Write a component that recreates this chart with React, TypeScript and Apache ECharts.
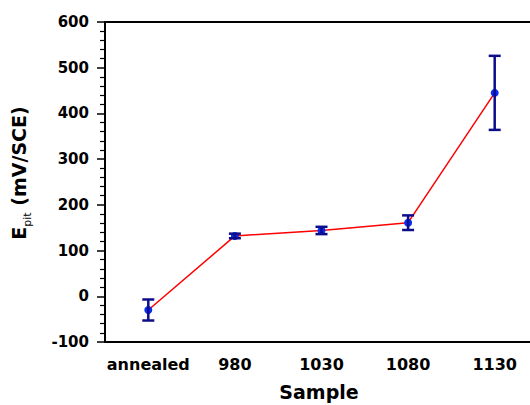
import React, { useEffect, useRef } from "react";
import * as echarts from "echarts";

const categories = ["annealed", "980", "1030", "1080", "1130"];
const means = [-30, 132, 144, 161, 445];
const errors = [23, 5, 8, 16, 81];
const yTicks = { min: -100, max: 600, interval: 100 };

export default function App() {
  const ref = useRef<HTMLDivElement>(null);
  useEffect(() => {
    if (!ref.current) return;
    const chart = echarts.init(ref.current, null, { renderer: "svg" });
    const font = "'DejaVu Sans', 'Liberation Sans', Arial, sans-serif";
    const errData = means.map((m, i) => [i, m - errors[i], m + errors[i]]);
    chart.setOption({
      animation: false,
      backgroundColor: "#ffffff",
      grid: {
        left: 105,
        top: 22,
        width: 433,
        bottom: 63,
        show: true,
        borderColor: "#000",
        borderWidth: 2,
        backgroundColor: "transparent",
      },
      xAxis: {
        type: "category",
        data: categories,
        boundaryGap: true,
        axisLine: { onZero: false, lineStyle: { color: "#000", width: 2 } },
        axisTick: { alignWithLabel: true, interval: 0, length: 7, lineStyle: { color: "#000", width: 1.5 } },
        axisLabel: { interval: 0, color: "#000", fontFamily: font, fontWeight: "bold", fontSize: 16, margin: 14 },
        splitLine: { show: false },
      },
      yAxis: {
        type: "value",
        min: yTicks.min,
        max: yTicks.max,
        interval: yTicks.interval,
        axisLine: { show: true, lineStyle: { color: "#000", width: 2 } },
        axisTick: { show: true, length: 8, lineStyle: { color: "#000", width: 1.5 } },
        minorTick: { show: true, splitNumber: 5, length: 5, lineStyle: { color: "#000", width: 1.2 } },
        axisLabel: { color: "#000", fontFamily: font, fontWeight: "bold", fontSize: 15, margin: 16 },
        splitLine: { show: false },
      },
      graphic: [
        {
          type: "text",
          x: 319,
          y: 392,
          style: {
            text: "Sample",
            fontFamily: font,
            fontWeight: "bold",
            fontSize: 19,
            fill: "#000",
            align: "center",
            verticalAlign: "middle",
          },
        },
        {
          type: "text",
          x: 21,
          y: 173,
          rotation: Math.PI / 2,
          style: {
            text: "{e|E}{s|pit}{n| (mV/SCE)}",
            align: "center",
            verticalAlign: "middle",
            rich: {
              e: { fontFamily: font, fontWeight: "bold", fontSize: 19, fill: "#000", lineHeight: 24, verticalAlign: "top" },
              s: { fontFamily: font, fontWeight: "normal", fontSize: 11, fill: "#000", lineHeight: 11, verticalAlign: "bottom" },
              n: { fontFamily: font, fontWeight: "bold", fontSize: 19, fill: "#000", lineHeight: 24, verticalAlign: "top" },
            },
          },
        },
      ],
      series: [
        {
          type: "line",
          data: means,
          symbol: "circle",
          symbolSize: 8,
          itemStyle: { color: "#0a2cf0" },
          lineStyle: { color: "#ff0000", width: 1.5 },
          z: 3,
        },
        {
          type: "custom",
          data: errData,
          z: 4,
          renderItem: (params: any, api: any) => {
            const x = api.value(0);
            const lo = api.coord([x, api.value(1)]);
            const hi = api.coord([x, api.value(2)]);
            const hw = 6;
            const st = { stroke: "#0d0d8a", lineWidth: 2.5, fill: "none" };
            return {
              type: "group",
              children: [
                { type: "line", shape: { x1: lo[0], y1: lo[1], x2: hi[0], y2: hi[1] }, style: st },
                { type: "line", shape: { x1: lo[0] - hw, y1: lo[1], x2: lo[0] + hw, y2: lo[1] }, style: st },
                { type: "line", shape: { x1: hi[0] - hw, y1: hi[1], x2: hi[0] + hw, y2: hi[1] }, style: st },
              ],
            };
          },
        },
      ],
    });
    return () => chart.dispose();
  }, []);
  return <div ref={ref} style={{ position: "fixed", left: 0, top: 0, width: 548, height: 405 }} />;
}
